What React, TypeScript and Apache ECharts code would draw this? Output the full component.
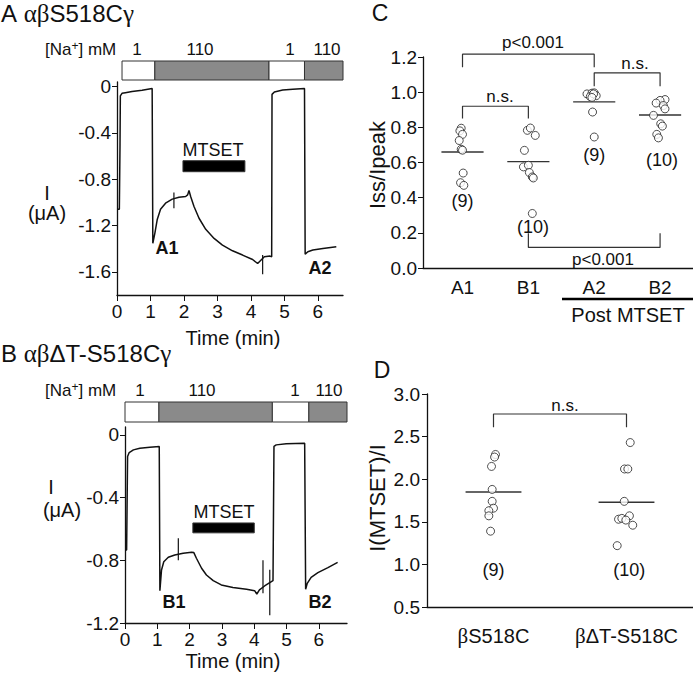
import React, { useEffect, useRef } from 'react';
import * as echarts from 'echarts';

const FONT = '"Liberation Sans", Arial, Helvetica, sans-serif';
const SERIF = '"Liberation Serif", "Times New Roman", serif';
const INK = '#111';

// ---------- Panel A : current trace (time min, current uA) ----------
const traceA: number[][] = [
  [0, -1.06], [0.07, -1.06], [0.09, -0.5], [0.1, -0.08], [0.15, -0.058], [0.25, -0.052], [0.45, -0.043], [0.75, -0.032], [1.05, -0.017],
  [1.07, -1.354], [1.13, -1.267], [1.2, -1.15], [1.3, -1.06], [1.45, -1.007], [1.65, -0.972], [1.85, -0.955], [2.05, -0.949], [2.11, -0.935], [2.15, -0.897],
  [2.2, -0.949], [2.3, -1.036], [2.45, -1.137], [2.65, -1.233], [2.9, -1.311], [3.15, -1.369], [3.45, -1.418], [3.75, -1.455], [4.05, -1.493], [4.2, -1.528],
  [4.4, -1.47], [4.57, -1.464], [4.62, -1.47],
  [4.63, -0.067], [4.7, -0.046], [4.95, -0.029], [5.25, -0.023], [5.6, -0.017],
  [5.62, -1.447], [5.7, -1.426], [5.85, -1.412], [6.15, -1.398], [6.55, -1.383],
];
const artifactsA: number[][][] = [
  [[1.7, -0.914], [1.7, -1.05]],
  [[4.35, -1.455], [4.35, -1.62]],
];
// [start, end, Na mM]
const naSegmentsA: number[][] = [[0.15, 1.13, 1], [1.13, 4.54, 110], [4.54, 5.6, 1], [5.6, 6.75, 110]];
const mtsetA = [1.97, 3.82];

// ---------- Panel B ----------
const traceB: number[][] = [
  [0, -0.734], [0.05, -0.734], [0.08, -0.138], [0.13, -0.113], [0.26, -0.096], [0.46, -0.085], [0.77, -0.079], [1.06, -0.074],
  [1.08, -0.994], [1.13, -0.862], [1.2, -0.809], [1.34, -0.781], [1.54, -0.766], [1.8, -0.755], [2.06, -0.749], [2.13, -0.751],
  [2.21, -0.787], [2.37, -0.851], [2.52, -0.894], [2.73, -0.93], [2.98, -0.957], [3.34, -0.974], [3.76, -0.985], [4.01, -0.994], [4.08, -1.015],
  [4.16, -0.989], [4.32, -0.964], [4.53, -0.936], [4.58, -0.93],
  [4.61, -0.074], [4.68, -0.064], [4.99, -0.057], [5.56, -0.053],
  [5.59, -0.985], [5.64, -0.947], [5.76, -0.909], [5.97, -0.879], [6.28, -0.847], [6.58, -0.813],
];
const artifactsB: number[][][] = [
  [[1.65, -0.66], [1.65, -0.8]],
  [[4.27, -0.8], [4.27, -1.01]],
  [[4.48, -0.86], [4.48, -1.15]],
];
const naSegmentsB: number[][] = [[0, 1.05, 1], [1.05, 4.56, 110], [4.56, 5.69, 1], [5.69, 6.87, 110]];
const mtsetB = [2.1, 4.0];

const timeTicks = [0, 1, 2, 3, 4, 5, 6];
const currentTicksA = [0, -0.4, -0.8, -1.2, -1.6];
const currentTicksB = [0, -0.4, -0.8, -1.2];

// ---------- Panel C ----------
const groupsC = ['A1', 'B1', 'A2', 'B2'];
const valuesC: number[][] = [
  [0.795, 0.78, 0.76, 0.725, 0.675, 0.67, 0.54, 0.485, 0.47],
  [0.783, 0.796, 0.754, 0.669, 0.575, 0.584, 0.543, 0.518, 0.512, 0.31],
  [0.99, 0.994, 0.996, 0.975, 0.98, 0.99, 0.97, 0.887, 0.745],
  [0.958, 0.953, 0.938, 0.924, 0.905, 0.868, 0.82, 0.807, 0.76, 0.74],
];
const jitterC: number[][] = [
  [-0.02, -0.04, 0, -0.05, -0.02, 0, 0.01, -0.03, 0.02],
  [-0.015, 0.03, 0.105, -0.06, -0.075, 0, 0.015, 0.06, 0.075, 0.06],
  [-0.11, -0.035, 0, -0.06, 0.03, -0.01, -0.035, -0.025, 0],
  [0.075, 0, -0.06, 0.05, 0.075, -0.1, 0.01, 0.035, -0.05, -0.025],
];
const meansC = [0.66, 0.605, 0.945, 0.87];
const countsC = ['(9)', '(10)', '(9)', '(10)'];
const countYC = [0.38, 0.235, 0.64, 0.615];
const yTicksC = [0, 0.2, 0.4, 0.6, 0.8, 1.0, 1.2];
const bracketsC: number[][][] = [
  [[1, 1.142], [1, 1.216], [3, 1.216], [3, 1.142]],
  [[3, 1.034], [3, 1.11], [4, 1.11], [4, 1.034]],
  [[1, 0.85], [1, 0.92], [2, 0.92], [2, 0.85]],
  [[2, 0.197], [2, 0.117], [4, 0.117], [4, 0.197]],
];

// ---------- Panel D ----------
const groupsD = ['βS518C', 'βΔT-S518C'];
const valuesD: number[][] = [
  [2.29, 2.26, 2.15, 1.88, 1.74, 1.66, 1.63, 1.57, 1.39],
  [2.43, 2.12, 2.12, 1.74, 1.53, 1.54, 1.57, 1.52, 1.46, 1.22],
];
const jitterD: number[][] = [
  [0.015, 0.008, -0.015, -0.01, -0.01, 0, -0.035, -0.035, -0.022],
  [0.028, -0.015, 0.01, -0.017, -0.06, -0.035, 0.022, -0.005, 0.047, -0.07],
];
const meansD = [1.85, 1.73];
const countsD = ['(9)', '(10)'];
const countYD = [0.93, 0.93];
const yTicksD = [0.5, 1.0, 1.5, 2.0, 2.5, 3.0];
const bracketsD: number[][][] = [[[1, 2.61], [1, 2.765], [2, 2.765], [2, 2.61]]];

const axisLineStyle = { lineStyle: { color: INK, width: 1.3 } };
const tickLabel = { color: INK, fontFamily: FONT, fontSize: 19 };

function rectItem(color: (p: any, api: any) => string) {
  return (params: any, api: any) => {
    const s = api.value(0), e = api.value(1), y0 = api.value(2), y1 = api.value(3);
    const p0 = api.coord([s, y0]);
    const p1 = api.coord([e, y1]);
    return {
      type: 'rect',
      shape: { x: p0[0], y: p0[1], width: p1[0] - p0[0], height: p1[1] - p0[1] },
      style: { fill: color(params, api), stroke: '#333', lineWidth: 1 },
    };
  };
}

function txt(text: string, x: number, y: number, size: number, extra: any = {}) {
  const { align = 'center', weight = 'normal', rotation = 0, rich, family = FONT } = extra;
  return {
    type: 'text',
    x, y, rotation,
    style: {
      text, fill: INK, fontSize: size, fontFamily: family, fontWeight: weight,
      align, verticalAlign: 'middle', textAlign: align, textVerticalAlign: 'middle',
      rich,
    },
  };
}

export default function App() {
  const ref = useRef<HTMLDivElement>(null);
  useEffect(() => {
    if (!ref.current) return;
    const chart = echarts.init(ref.current, null, { renderer: 'svg' });

    const timeAxis = (grid: number, max: number) => ({
      type: 'value', gridIndex: grid, min: 0, max,
      axisLine: { show: true, onZero: false, ...axisLineStyle },
      axisTick: { show: true, length: 6, customValues: timeTicks, lineStyle: { color: INK } },
      axisLabel: { ...tickLabel, margin: 7, customValues: timeTicks },
      splitLine: { show: false },
    });
    const currentAxis = (grid: number, min: number, max: number, ticks: number[]) => ({
      type: 'value', gridIndex: grid, min, max,
      axisLine: { show: true, onZero: false, ...axisLineStyle },
      axisTick: { show: true, length: 5, customValues: ticks, lineStyle: { color: INK } },
      axisLabel: { ...tickLabel, margin: 6, customValues: ticks, formatter: (v: number) => (Math.abs(v) < 1e-9 ? '0' : v.toFixed(1)) },
      splitLine: { show: false },
    });
    const hiddenAxis = (grid: number, min: number, max: number) => ({ type: 'value', gridIndex: grid, min, max, show: false });

    const series: any[] = [];
    // Traces
    series.push({ type: 'line', xAxisIndex: 0, yAxisIndex: 0, data: traceA, symbol: 'none', lineStyle: { color: INK, width: 1.5 }, z: 3 });
    artifactsA.forEach((a) => series.push({ type: 'line', xAxisIndex: 0, yAxisIndex: 0, data: a, symbol: 'none', lineStyle: { color: INK, width: 1.2 } }));
    series.push({ type: 'line', xAxisIndex: 2, yAxisIndex: 2, data: traceB, symbol: 'none', lineStyle: { color: INK, width: 1.5 }, z: 3 });
    artifactsB.forEach((a) => series.push({ type: 'line', xAxisIndex: 2, yAxisIndex: 2, data: a, symbol: 'none', lineStyle: { color: INK, width: 1.2 } }));
    // Na bars
    const naColor = (p: any, api: any) => (api.value(4) > 50 ? '#8a8a8a' : '#ffffff');
    series.push({
      type: 'custom', xAxisIndex: 1, yAxisIndex: 1, renderItem: rectItem(naColor),
      data: naSegmentsA.map((s) => [s[0], s[1], 1, 0, s[2]]),
    });
    series.push({
      type: 'custom', xAxisIndex: 3, yAxisIndex: 3, renderItem: rectItem(naColor),
      data: naSegmentsB.map((s) => [s[0], s[1], 1, 0, s[2]]),
    });
    // MTSET bars
    series.push({
      type: 'custom', xAxisIndex: 0, yAxisIndex: 0, renderItem: rectItem(() => '#000'),
      data: [[mtsetA[0], mtsetA[1], -0.64, -0.735]],
    });
    series.push({
      type: 'custom', xAxisIndex: 2, yAxisIndex: 2, renderItem: rectItem(() => '#000'),
      data: [[mtsetB[0], mtsetB[1], -0.562, -0.625]],
    });

    const countLabel = (texts: string[]) => ({
      show: true, position: 'inside', formatter: (p: any) => texts[p.dataIndex],
      color: INK, fontFamily: FONT, fontSize: 18, textBorderWidth: 0, opacity: 1,
    });

    // Panel C
    series.push({
      type: 'scatter', xAxisIndex: 4, yAxisIndex: 4, symbol: 'circle', symbolSize: 8,
      itemStyle: { color: '#fff', borderColor: '#222', borderWidth: 1 },
      data: valuesC.flatMap((vals, g) => vals.map((v, i) => [g + 1 + jitterC[g][i], v])), z: 4,
    });
    meansC.forEach((m, g) => series.push({
      type: 'line', xAxisIndex: 4, yAxisIndex: 4, symbol: 'none', lineStyle: { color: '#333', width: 1.4 },
      data: [[g + 1 - 0.32, m], [g + 1 + 0.32, m]],
    }));
    bracketsC.forEach((b) => series.push({
      type: 'line', xAxisIndex: 4, yAxisIndex: 4, symbol: 'none', clip: false, lineStyle: { color: '#333', width: 1.2 }, data: b,
    }));
    series.push({
      type: 'scatter', xAxisIndex: 4, yAxisIndex: 4, symbolSize: 1, itemStyle: { color: '#fff', borderWidth: 0 },
      data: countYC.map((y, g) => [g + 1 + (g === 1 ? 0.07 : g === 3 ? 0.03 : 0), y]),
      label: countLabel(countsC),
    });

    // Panel D
    series.push({
      type: 'scatter', xAxisIndex: 5, yAxisIndex: 5, symbol: 'circle', symbolSize: 8,
      itemStyle: { color: '#fff', borderColor: '#222', borderWidth: 1 },
      data: valuesD.flatMap((vals, g) => vals.map((v, i) => [g + 1 + jitterD[g][i], v])), z: 4,
    });
    meansD.forEach((m, g) => series.push({
      type: 'line', xAxisIndex: 5, yAxisIndex: 5, symbol: 'none', lineStyle: { color: '#333', width: 1.4 },
      data: [[g + 1 - 0.21, m], [g + 1 + 0.21, m]],
    }));
    bracketsD.forEach((b) => series.push({
      type: 'line', xAxisIndex: 5, yAxisIndex: 5, symbol: 'none', clip: false, lineStyle: { color: '#333', width: 1.2 }, data: b,
    }));
    series.push({
      type: 'scatter', xAxisIndex: 5, yAxisIndex: 5, symbolSize: 1, itemStyle: { color: '#fff', borderWidth: 0 },
      data: countYD.map((y, g) => [g + 1 + (g === 1 ? 0.02 : 0), y]),
      label: countLabel(countsD),
    });

    const titleRich = { s: { fontFamily: FONT, fontSize: 24, fill: INK }, g: { fontFamily: SERIF, fontSize: 25, fill: INK } };
    const naRich = { s: { fontFamily: FONT, fontSize: 17, fill: INK }, sup: { fontFamily: FONT, fontSize: 12, fill: INK, padding: [0, 0, 6, 0] } };

    chart.setOption({
      animation: false,
      backgroundColor: '#fff',
      grid: [
        { left: 117, top: 82, width: 226, height: 213 },
        { left: 117, top: 61, width: 226, height: 19 },
        { left: 125, top: 427, width: 222, height: 196 },
        { left: 125, top: 402, width: 222, height: 20 },
        { left: 423, top: 57, width: 270, height: 211 },
        { left: 427, top: 394, width: 266, height: 213 },
      ],
      xAxis: [
        timeAxis(0, 6.75),
        hiddenAxis(1, 0, 6.75),
        timeAxis(2, 6.87),
        hiddenAxis(3, 0, 6.87),
        {
          type: 'value', gridIndex: 4, min: 0.4, max: 4.5,
          axisLine: { show: true, onZero: false, ...axisLineStyle }, axisTick: { show: false },
          axisLabel: { ...tickLabel, margin: 10, customValues: [1, 2, 3, 4], formatter: (v: number) => groupsC[Math.round(v) - 1] },
          splitLine: { show: false },
        },
        {
          type: 'value', gridIndex: 5, min: 0.5, max: 2.5,
          axisLine: { show: true, onZero: false, ...axisLineStyle }, axisTick: { show: false },
          axisLabel: {
            ...tickLabel, fontSize: 20, margin: 18, customValues: [1, 2],
            formatter: (v: number) => '{g|' + groupsD[Math.round(v) - 1].slice(0, 1) + '}' + groupsD[Math.round(v) - 1].slice(1),
            rich: { g: { fontFamily: SERIF, fontSize: 21, color: INK } },
          },
          splitLine: { show: false },
        },
      ],
      yAxis: [
        currentAxis(0, -1.8, 0.04, currentTicksA),
        hiddenAxis(1, 0, 1),
        currentAxis(2, -1.2, 0.05, currentTicksB),
        hiddenAxis(3, 0, 1),
        {
          type: 'value', gridIndex: 4, min: 0, max: 1.2,
          axisLine: { show: true, onZero: false, ...axisLineStyle },
          axisTick: { show: true, length: 5, customValues: yTicksC, lineStyle: { color: INK } },
          axisLabel: { ...tickLabel, margin: 6, customValues: yTicksC, formatter: (v: number) => v.toFixed(1) },
          splitLine: { show: false },
        },
        {
          type: 'value', gridIndex: 5, min: 0.5, max: 3.0,
          axisLine: { show: true, onZero: false, ...axisLineStyle },
          axisTick: { show: true, length: 5, customValues: yTicksD, lineStyle: { color: INK } },
          axisLabel: { ...tickLabel, margin: 7, customValues: yTicksD, formatter: (v: number) => v.toFixed(1) },
          splitLine: { show: false },
        },
      ],
      series,
      graphic: [
        txt('{s|A }{g|αβ}{s|S518C}{g|γ}', 1, 13, 24, { align: 'left', rich: titleRich }),
        txt('{s|B }{g|αβ}{s|ΔT-S518C}{g|γ}', 1, 353, 24, { align: 'left', rich: titleRich }),
        txt('{s|[Na}{sup|+}{s|] mM}', 45, 49, 17, { align: 'left', rich: naRich }),
        txt('1', 137, 49, 17), txt('110', 200, 49, 17), txt('1', 290, 49, 17), txt('110', 327, 49, 17),
        txt('{s|[Na}{sup|+}{s|] mM}', 45, 390, 17, { align: 'left', rich: naRich }),
        txt('1', 140, 390, 17), txt('110', 202, 390, 17), txt('1', 295, 390, 17), txt('110', 329, 390, 17),
        txt('MTSET', 213, 150, 18), txt('MTSET', 224, 512, 18),
        txt('I', 47, 193, 20), txt('(μA)', 47, 213, 20),
        txt('I', 51, 487, 20), txt('(μA)', 62, 510, 20),
        txt('A1', 167, 248, 18, { weight: 'bold' }), txt('A2', 320, 268, 18, { weight: 'bold' }),
        txt('B1', 174, 602, 18, { weight: 'bold' }), txt('B2', 320, 602, 18, { weight: 'bold' }),
        txt('Time (min)', 233, 338, 20), txt('Time (min)', 233, 661, 20),
        txt('C', 380, 13, 23), txt('D', 382, 370, 23),
        txt('p<0.001', 533, 42, 17), txt('n.s.', 635, 63, 17), txt('n.s.', 500, 96, 17), txt('p<0.001', 603, 259, 17),
        txt('n.s.', 565, 405, 17),
        { type: 'line', shape: { x1: 562, y1: 299, x2: 693, y2: 299 }, style: { stroke: '#000', lineWidth: 2.5 } },
        txt('Post MTSET', 628, 315, 20),
        txt('Iss/Ipeak', 377, 165, 22, { rotation: Math.PI / 2 }),
        txt('I(MTSET)/I', 377, 498, 22, { rotation: Math.PI / 2 }),
      ],
    });
    return () => chart.dispose();
  }, []);
  return <div ref={ref} style={{ position: 'absolute', left: 0, top: 0, width: 693, height: 675, background: '#fff' }} />;
}
